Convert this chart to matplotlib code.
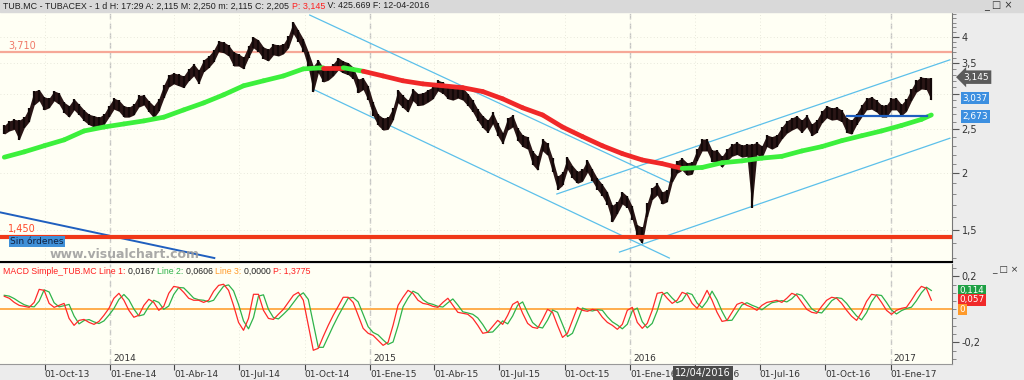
import matplotlib
matplotlib.use("Agg")
import matplotlib.pyplot as plt
import matplotlib.dates as mdates
from matplotlib.collections import LineCollection
from matplotlib.ticker import FixedLocator, NullFormatter
import numpy as np
import pandas as pd

# weekly price ranges (TUBACEX, TUB.MC)
week_dates = pd.date_range("2013-08-05", periods=187, freq="7D")
wk_high = [
    2.55, 2.61, 2.63, 2.62, 2.66, 2.79, 3.04, 3.06, 2.95, 2.93,
    3.04, 3.01, 2.87, 2.82, 2.92, 2.84, 2.76, 2.70, 2.68, 2.66,
    2.70, 2.82, 2.93, 2.90, 2.82, 2.80, 2.84, 2.97, 2.98, 2.89,
    2.82, 2.92, 3.13, 3.30, 3.33, 3.31, 3.28, 3.40, 3.49, 3.38,
    3.56, 3.63, 3.74, 3.92, 3.90, 3.84, 3.71, 3.67, 3.61, 3.82,
    4.00, 3.94, 3.80, 3.76, 3.86, 3.84, 3.86, 4.02, 4.32, 4.14,
    3.96, 3.71, 3.45, 3.56, 3.42, 3.42, 3.49, 3.60, 3.54, 3.51,
    3.43, 3.23, 3.25, 3.12, 2.87, 2.70, 2.65, 2.66, 2.79, 3.06,
    2.97, 2.90, 3.07, 3.00, 3.01, 3.06, 3.10, 3.21, 3.18, 3.10,
    3.09, 3.12, 3.09, 3.00, 2.90, 2.77, 2.68, 2.62, 2.73, 2.58,
    2.46, 2.65, 2.69, 2.52, 2.43, 2.41, 2.24, 2.18, 2.38, 2.33,
    2.16, 1.97, 2.01, 2.17, 2.08, 2.02, 2.04, 2.14, 2.04, 1.95,
    1.89, 1.82, 1.70, 1.73, 1.82, 1.78, 1.69, 1.54, 1.52, 1.72,
    1.86, 1.90, 1.82, 1.84, 2.05, 2.13, 2.16, 2.11, 2.12, 2.26,
    2.38, 2.38, 2.25, 2.25, 2.18, 2.26, 2.32, 2.34, 2.31, 2.32,
    2.32, 2.34, 2.30, 2.43, 2.41, 2.43, 2.53, 2.61, 2.65, 2.68,
    2.62, 2.69, 2.57, 2.62, 2.74, 2.82, 2.79, 2.80, 2.76, 2.65,
    2.62, 2.71, 2.83, 2.93, 2.95, 2.90, 2.83, 2.83, 2.93, 2.93,
    2.84, 2.92, 3.07, 3.21, 3.26, 3.25, 3.25,
]
wk_low = [
    2.44, 2.48, 2.50, 2.37, 2.52, 2.60, 2.83, 2.89, 2.76, 2.79,
    2.89, 2.84, 2.72, 2.66, 2.76, 2.69, 2.61, 2.56, 2.53, 2.52,
    2.56, 2.66, 2.77, 2.74, 2.66, 2.66, 2.69, 2.80, 2.83, 2.73,
    2.65, 2.74, 2.93, 3.10, 3.15, 3.12, 3.09, 3.20, 3.28, 3.15,
    3.35, 3.42, 3.52, 3.71, 3.69, 3.63, 3.45, 3.45, 3.40, 3.60,
    3.78, 3.71, 3.58, 3.54, 3.65, 3.63, 3.67, 3.78, 4.06, 3.90,
    3.71, 3.42, 3.02, 3.33, 3.18, 3.21, 3.28, 3.38, 3.33, 3.30,
    3.23, 3.01, 3.06, 2.90, 2.68, 2.55, 2.49, 2.50, 2.62, 2.86,
    2.79, 2.73, 2.89, 2.82, 2.83, 2.87, 2.92, 3.04, 3.00, 2.92,
    2.90, 2.93, 2.90, 2.82, 2.73, 2.61, 2.52, 2.46, 2.57, 2.42,
    2.32, 2.49, 2.53, 2.36, 2.29, 2.26, 2.09, 2.03, 2.24, 2.19,
    2.01, 1.84, 1.88, 2.04, 1.95, 1.90, 1.92, 2.01, 1.92, 1.84,
    1.78, 1.70, 1.56, 1.63, 1.71, 1.68, 1.58, 1.44, 1.40, 1.60,
    1.75, 1.79, 1.71, 1.73, 1.91, 2.00, 2.03, 1.98, 1.99, 2.13,
    2.24, 2.24, 2.12, 2.12, 2.06, 2.13, 2.18, 2.20, 2.17, 2.18,
    1.68, 2.20, 2.16, 2.29, 2.26, 2.29, 2.38, 2.45, 2.49, 2.52,
    2.46, 2.53, 2.42, 2.46, 2.58, 2.65, 2.62, 2.63, 2.60, 2.46,
    2.44, 2.56, 2.66, 2.76, 2.77, 2.73, 2.66, 2.66, 2.76, 2.76,
    2.68, 2.74, 2.89, 3.02, 3.07, 3.06, 2.90,
]

# moving average, every 4th week
ma_idx = list(range(0, 187, 4)) + [186]
ma_vals = [
    2.17, 2.23, 2.30, 2.37, 2.48, 2.53, 2.57, 2.61, 2.66, 2.76,
    2.86, 2.98, 3.12, 3.20, 3.28, 3.40, 3.42, 3.42, 3.36, 3.28,
    3.20, 3.15, 3.12, 3.09, 3.03, 2.92, 2.79, 2.69, 2.53, 2.41,
    2.30, 2.21, 2.14, 2.10, 2.05, 2.06, 2.11, 2.13, 2.16, 2.18,
    2.24, 2.29, 2.36, 2.42, 2.48, 2.55, 2.63, 2.69,
]

# MACD lines (weekly)
macd_line1 = [
    0.079, 0.067, 0.042, 0.024, 0.018, 0.012, 0.042, 0.121, 0.115, 0.036,
    0.012, 0.024, 0.036, -0.055, -0.097, -0.067, -0.061, -0.079, -0.091, -0.073,
    -0.036, 0.006, 0.067, 0.097, 0.055, -0.006, -0.048, -0.036, 0.024, 0.061,
    0.042, -0.006, 0.018, 0.097, 0.139, 0.133, 0.103, 0.067, 0.055, 0.055,
    0.042, 0.055, 0.109, 0.145, 0.152, 0.115, 0.024, -0.079, -0.127, -0.055,
    0.091, 0.091, -0.006, -0.055, -0.061, -0.030, 0.000, 0.042, 0.085, 0.103,
    0.055, -0.097, -0.248, -0.236, -0.164, -0.097, -0.036, 0.018, 0.073, 0.073,
    0.042, -0.036, -0.115, -0.145, -0.158, -0.188, -0.218, -0.200, -0.097, 0.024,
    0.073, 0.115, 0.097, 0.055, 0.036, 0.030, 0.018, 0.012, 0.042, 0.067,
    0.024, -0.018, -0.024, -0.030, -0.055, -0.097, -0.145, -0.139, -0.103, -0.067,
    -0.091, -0.036, 0.030, 0.048, -0.024, -0.085, -0.109, -0.115, -0.061, 0.000,
    -0.018, -0.097, -0.170, -0.145, -0.067, 0.012, -0.006, -0.012, 0.000, -0.006,
    -0.048, -0.079, -0.097, -0.121, -0.091, -0.006, 0.012, -0.079, -0.115, -0.085,
    -0.006, 0.097, 0.103, 0.067, 0.036, 0.055, 0.103, 0.091, 0.036, 0.006,
    0.055, 0.115, 0.055, -0.018, -0.073, -0.067, -0.018, 0.030, 0.042, 0.024,
    0.012, -0.006, 0.024, 0.042, 0.048, 0.055, 0.042, 0.067, 0.097, 0.085,
    0.042, 0.000, -0.018, -0.024, 0.018, 0.055, 0.073, 0.067, 0.036, -0.006,
    -0.042, -0.067, -0.018, 0.048, 0.091, 0.085, 0.042, -0.006, -0.030, -0.006,
    0.006, 0.012, 0.055, 0.103, 0.139, 0.127, 0.055,
]
macd_line2 = [
    0.085, 0.080, 0.065, 0.045, 0.028, 0.018, 0.015, 0.050, 0.118, 0.105,
    0.040, 0.015, 0.022, 0.030, -0.040, -0.088, -0.068, -0.062, -0.076, -0.086,
    -0.070, -0.035, 0.005, 0.060, 0.090, 0.058, 0.002, -0.040, -0.032, 0.018,
    0.055, 0.042, 0.000, 0.020, 0.090, 0.132, 0.130, 0.100, 0.068, 0.058,
    0.055, 0.045, 0.055, 0.100, 0.140, 0.148, 0.112, 0.030, -0.070, -0.118,
    -0.050, 0.080, 0.088, 0.000, -0.050, -0.058, -0.030, 0.000, 0.040, 0.080,
    0.100, 0.060, -0.085, -0.230, -0.230, -0.165, -0.100, -0.040, 0.015, 0.068,
    0.072, 0.045, -0.030, -0.105, -0.140, -0.155, -0.185, -0.212, -0.198, -0.100,
    0.015, 0.068, 0.110, 0.095, 0.058, 0.038, 0.030, 0.018, 0.014, 0.040,
    0.063, 0.026, -0.015, -0.022, -0.030, -0.052, -0.092, -0.140, -0.137, -0.105,
    -0.070, -0.088, -0.040, 0.025, 0.045, -0.020, -0.080, -0.106, -0.113, -0.065,
    -0.004, -0.018, -0.092, -0.165, -0.145, -0.070, 0.008, -0.004, -0.010, -0.002,
    -0.006, -0.045, -0.076, -0.095, -0.118, -0.090, -0.010, 0.008, -0.075, -0.112,
    -0.085, -0.010, 0.090, 0.102, 0.068, 0.040, 0.053, 0.100, 0.090, 0.038,
    0.010, 0.050, 0.110, 0.058, -0.012, -0.068, -0.066, -0.020, 0.026, 0.040,
    0.025, 0.013, -0.003, 0.020, 0.040, 0.046, 0.053, 0.045, 0.064, 0.094,
    0.085, 0.045, 0.003, -0.016, -0.022, 0.014, 0.052, 0.071, 0.066, 0.036,
    -0.004, -0.040, -0.064, -0.020, 0.045, 0.088, 0.084, 0.042, -0.004, -0.028,
    -0.008, 0.005, 0.013, 0.052, 0.100, 0.134, 0.114,
]

# drawn trend lines: (dates, prices)
trend_lines = [
    (["2014-10-08", "2016-02-28"], [4.47, 1.90]),
    (["2014-10-12", "2016-02-25"], [3.07, 1.30]),
    (["2015-09-20", "2017-03-25"], [1.80, 3.56]),
    (["2015-12-17", "2017-03-25"], [1.34, 2.39]),
]
old_trend = (["2013-07-30", "2014-05-27"], [1.64, 1.30])
support_line = (["2016-11-01", "2017-02-21"], [2.673, 2.673])
resistance = 3.710
floor_level = 1.450

quarter_dates = ["2013-10-01", "2014-01-01", "2014-04-01", "2014-07-01", "2014-10-01",
                 "2015-01-01", "2015-04-01", "2015-07-01", "2015-10-01", "2016-01-01",
                 "2016-04-01", "2016-07-01", "2016-10-01", "2017-01-01"]
quarter_labels = ["01-Oct-13", "01-Ene-14", "01-Abr-14", "01-Jul-14", "01-Oct-14",
                  "01-Ene-15", "01-Abr-15", "01-Jul-15", "01-Oct-15", "01-Ene-16",
                  "01-Abr-16", "01-Jul-16", "01-Oct-16", "01-Ene-17"]
year_dates = ["2014-01-01", "2015-01-01", "2016-01-01", "2017-01-01"]
year_labels = ["2014", "2015", "2016", "2017"]

plt.rcParams["font.family"] = ["DejaVu Sans"]
W, H = 1024, 380
fig = plt.figure(figsize=(W / 100, H / 100), dpi=100, facecolor="#ececec")
ax = fig.add_axes([0, 118 / H, 952 / W, 250 / H], facecolor="#fffff4")
ax2 = fig.add_axes([0, 16 / H, 952 / W, 100 / H], facecolor="#fffff4")
fig.patches.append(plt.Rectangle((0, 368 / H), 1, 12 / H, transform=fig.transFigure,
                                 color="#d9d9d9", zorder=0))

x0, x1 = pd.Timestamp("2013-07-30"), pd.Timestamp("2017-03-28")
for a in (ax, ax2):
    a.set_xlim(x0, x1)
    for d in year_dates:
        a.axvline(pd.Timestamp(d), color="#c4c4c4", lw=1, ls=(0, (4, 3)), zorder=1)
    a.spines["left"].set_visible(False)
    a.spines["top"].set_visible(False)
    a.spines["right"].set_color("#777777")
    a.yaxis.tick_right()
    a.set_xticks([pd.Timestamp(d) for d in quarter_dates])
    a.grid(True, axis="x", color="#e2e2d4", lw=0.6, ls=(0, (1, 3)), zorder=0)

# ---- price panel (the "3" label sits under the price boxes)
ax.set_yscale("log")
ax.set_ylim(1.274, 4.54)
ax.set_yticks([1.5, 2, 2.5, 3, 3.5, 4], labels=["1,5", "2", "2,5", "", "3,5", "4"])
ax.yaxis.set_minor_locator(FixedLocator(np.arange(1.3, 4.55, 0.1)))
ax.yaxis.set_minor_formatter(NullFormatter())
ax.tick_params(axis="y", which="major", length=5, color="#555555", labelsize=7,
               labelcolor="#333333", pad=2)
ax.tick_params(axis="y", which="minor", length=3, color="#777777")
ax.tick_params(axis="x", bottom=False, labelbottom=False)
ax.grid(True, axis="y", which="major", color="#e2e2d4", lw=0.6, ls=(0, (1, 3)), zorder=0)
ax.spines["bottom"].set_color("black")
ax.spines["bottom"].set_linewidth(1.5)

ax.axhline(resistance, color="#f6a898", lw=1.6, zorder=2)
ax.text(8 / 952, 0.864, "3,710", transform=ax.transAxes, color="#f07a68", fontsize=7,
        va="center")
for dates, prices in trend_lines:
    ax.plot(pd.to_datetime(dates), prices, color="#5cc0ea", lw=0.9, zorder=2)
ax.plot(pd.to_datetime(old_trend[0]), old_trend[1], color="#1f5fbf", lw=1.4, zorder=2)

# price band: weekly ranges joined, with bar texture on top
ax.fill_between(week_dates, wk_low, wk_high, color="#2a1616", lw=0, zorder=3)
ax.vlines(week_dates, wk_low, wk_high, color="#120808", lw=1.6, zorder=3)

# moving average coloured by price position
ma_x = mdates.date2num(week_dates[ma_idx])
segs, cols = [], []
for k in range(len(ma_idx) - 1):
    i = ma_idx[k]
    mid = np.sqrt(wk_high[i] * wk_low[i])
    segs.append([(ma_x[k], ma_vals[k]), (ma_x[k + 1], ma_vals[k + 1])])
    cols.append("#3cf03c" if mid >= ma_vals[k] else "#f02828")
ax.add_collection(LineCollection(segs, colors=cols, linewidths=3.4, capstyle="round",
                                 zorder=4))

ax.plot(pd.to_datetime(support_line[0]), support_line[1], color="#1f5fbf", lw=1.6, zorder=5)
ax.axhline(floor_level, color="#f03818", lw=3, zorder=5)
ax.text(8 / 952, 0.132, "1,450", transform=ax.transAxes, color="#ff4a2a", fontsize=7,
        va="center")
ax.text(10 / 952, 0.082, "Sin órdenes", transform=ax.transAxes, color="#102040", fontsize=6.5,
        va="center", zorder=6,
        bbox=dict(boxstyle="square,pad=0.15", fc="#3f90d8", ec="none"))
ax.text(125 / 952, 0.03, "www.visualchart.com", transform=ax.transAxes, color="#9a9a9a",
        fontsize=9, fontweight="bold", ha="center", va="center", alpha=0.85, zorder=6)

ytr = ax.get_yaxis_transform()
ax.text(1.011, 2.93, "3,037", transform=ytr, color="white", fontsize=6.3, va="center",
        ha="left", clip_on=False, bbox=dict(boxstyle="square,pad=0.2", fc="#3c8fe0", ec="none"))
ax.text(1.012, 3.26, "3,145", transform=ytr, color="white", fontsize=6.5, va="center",
        ha="left", clip_on=False,
        bbox=dict(boxstyle="larrow,pad=0.25", fc="#5a5a5a", ec="none"))
ax.text(1.011, 2.673, "2,673", transform=ytr, color="white", fontsize=6.5, va="center",
        ha="left", clip_on=False, bbox=dict(boxstyle="square,pad=0.2", fc="#3c8fe0", ec="none"))

# ---- MACD panel
ax2.set_ylim(-0.331, 0.2745)
ax2.set_yticks([-0.2, 0.2], labels=["-0,2", "0,2"])
ax2.yaxis.set_minor_locator(FixedLocator(np.arange(-0.3, 0.26, 0.05)))
ax2.yaxis.set_minor_formatter(NullFormatter())
ax2.tick_params(axis="y", which="major", length=5, color="#555555", labelsize=7,
                labelcolor="#333333", pad=2)
ax2.tick_params(axis="y", which="minor", length=3, color="#777777")
ax2.spines["bottom"].set_color("#999999")
ax2.set_xticks([pd.Timestamp(d) for d in quarter_dates], labels=quarter_labels)
ax2.tick_params(axis="x", length=4, color="#444444", labelsize=6.5, labelcolor="#333333",
                pad=0.5)
for t in ax2.get_xticklabels():
    t.set_ha("left")

ax2.axhline(0, color="#ffa030", lw=1.2, zorder=2)
ax2.plot(week_dates, macd_line2, color="#2fb34a", lw=0.9, zorder=3)
ax2.plot(week_dates, macd_line1, color="#ff2a2a", lw=0.9, zorder=4)

for d, lab in zip(year_dates, year_labels):
    ax2.annotate(lab, xy=(pd.Timestamp(d), -0.295), xytext=(2, 0), textcoords="offset points",
                 fontsize=6.5, color="#333333", ha="left", va="center")

y2tr = ax2.get_yaxis_transform()
for val, lab, fc in [(0.114, "0,114", "#1ea044"), (0.057, "0,057", "#f02a2a"),
                     (0.0, "0", "#ff9a2a")]:
    ax2.text(1.008, val, lab, transform=y2tr, color="white", fontsize=6.3, va="center",
             ha="left", clip_on=False, bbox=dict(boxstyle="square,pad=0.15", fc=fc, ec="none"))

ax2.text(pd.Timestamp("2016-04-12"), -0.09, "12/04/2016", transform=ax2.get_xaxis_transform(),
         color="white", fontsize=7, ha="center", va="center", clip_on=False, zorder=10,
         bbox=dict(boxstyle="square,pad=0.2", fc="#4a4a4a", ec="none"))


def put_parts(x, y, parts, size):
    r = fig.canvas.get_renderer()
    for s, c in parts:
        t = fig.text(x, y, s, color=c, fontsize=size, ha="left", va="center",
                     family="Liberation Sans")
        x = t.get_window_extent(r).x1 / fig.bbox.width


put_parts(3 / W, 1 - 6 / H, [
    ("TUB.MC - TUBACEX - 1 d H: 17:29 A: 2,115 M: 2,250 m: 2,115 C: 2,205 ", "#202020"),
    ("P: 3,145", "#ff2020"),
    (" V: 425.669 F: 12-04-2016", "#202020")], 6.4)

put_parts(3 / W, 1 - 271 / H, [
    ("MACD Simple_TUB.MC Line 1: ", "#ff2020"), ("0,0167 ", "#202020"),
    ("Line 2: ", "#2fb34a"), ("0,0606 ", "#202020"),
    ("Line 3: ", "#ff9a2a"), ("0,0000 ", "#202020"),
    ("P: 1,3775", "#ff2020")], 6.3)

fig.text(1 - 40 / W, 1 - 6 / H, "_ □ ×", fontsize=7, color="#333333", va="center")
fig.text(1 - 32 / W, 1 - 270 / H, "_ □ ×", fontsize=6.5, color="#333333", va="center")

fig.savefig("out.png", dpi=100, facecolor=fig.get_facecolor())
